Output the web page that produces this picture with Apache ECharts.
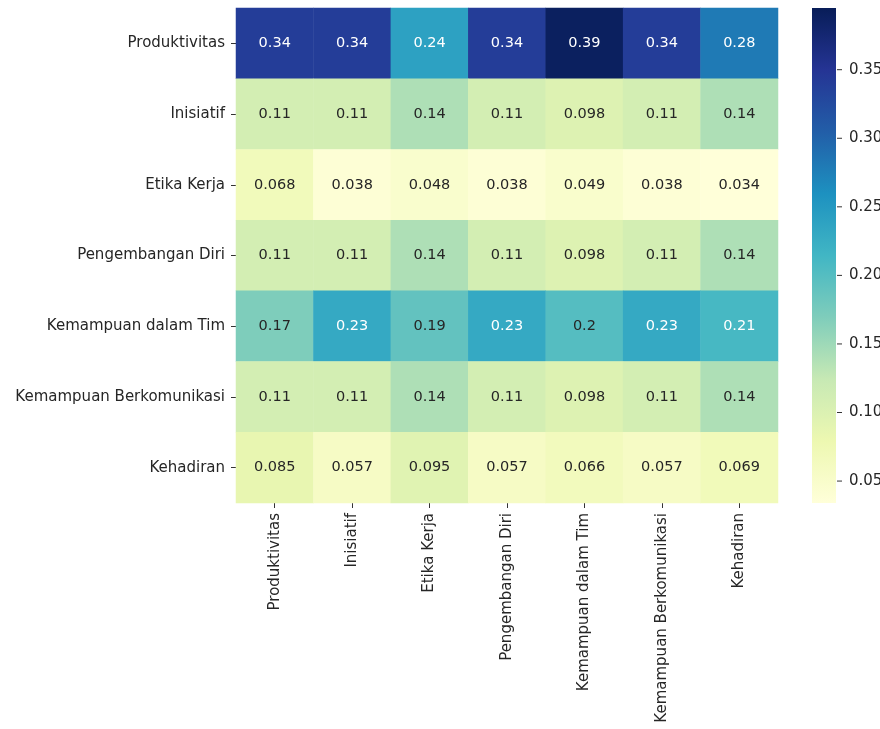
<!DOCTYPE html>
<html>
<head>
<meta charset="utf-8">
<script src="https://cdn.jsdelivr.net/npm/echarts@6/dist/echarts.min.js"></script>
<style>
html,body{margin:0;padding:0;background:#fff;}
#chart{width:880px;height:729px;}
</style>
</head>
<body>
<div id="chart"></div>
<script>
const categories = ['Produktivitas','Inisiatif','Etika Kerja','Pengembangan Diri','Kemampuan dalam Tim','Kemampuan Berkomunikasi','Kehadiran'];
const rowProduktivitas = [0.34, 0.34, 0.24, 0.34, 0.39, 0.34, 0.28];
const rowInisiatif = [0.11, 0.11, 0.14, 0.11, 0.098, 0.11, 0.14];
const rowEtikaKerja = [0.068, 0.038, 0.048, 0.038, 0.049, 0.038, 0.034];
const rowPengembanganDiri = [0.11, 0.11, 0.14, 0.11, 0.098, 0.11, 0.14];
const rowKemampuanTim = [0.17, 0.23, 0.19, 0.23, 0.2, 0.23, 0.21];
const rowKemampuanKomunikasi = [0.11, 0.11, 0.14, 0.11, 0.098, 0.11, 0.14];
const rowKehadiran = [0.085, 0.057, 0.095, 0.057, 0.066, 0.057, 0.069];
const colorbarTicks = [0.05, 0.10, 0.15, 0.20, 0.25, 0.30, 0.35];
const vMin = 0.034, vMax = 0.395;

const rows = [rowProduktivitas, rowInisiatif, rowEtikaKerja, rowPengembanganDiri, rowKemampuanTim, rowKemampuanKomunikasi, rowKehadiran];
const ylgnbu = ['#ffffd9','#edf8b1','#c7e9b4','#7fcdbb','#41b6c4','#1d91c0','#225ea8','#253494','#081d58'];

function hexToRgb(h){return [parseInt(h.slice(1,3),16),parseInt(h.slice(3,5),16),parseInt(h.slice(5,7),16)];}
function cmap(v){
  let t = (v - vMin) / (vMax - vMin);
  t = Math.max(0, Math.min(1, t));
  const p = t * (ylgnbu.length - 1);
  const i = Math.min(Math.floor(p), ylgnbu.length - 2);
  const f = p - i;
  const a = hexToRgb(ylgnbu[i]), b = hexToRgb(ylgnbu[i+1]);
  return a.map((c,k)=>c + (b[k]-c)*f);
}
function lum(rgb){
  const lin = rgb.map(c=>{c/=255;return c<=0.03928?c/12.92:Math.pow((c+0.055)/1.055,2.4);});
  return 0.2126*lin[0]+0.7152*lin[1]+0.0722*lin[2];
}

const data = [];
rows.forEach((row, r) => {
  row.forEach((v, c) => {
    const txt = lum(cmap(v)) > 0.408 ? '#262626' : '#ffffff';
    data.push({value:[c, r, v], label:{color: txt}});
  });
});

const gradient = new echarts.graphic.LinearGradient(0, 1, 0, 0,
  ylgnbu.map((c, i) => ({offset: i / (ylgnbu.length - 1), color: c})));

const font = 'DejaVu Sans';
const chart = echarts.init(document.getElementById('chart'));
chart.setOption({
  animation:false,
  backgroundColor:'#ffffff',
  grid:[
    {left:236, top:8, width:542, height:495, containLabel:false, outerBoundsMode:'none'},
    {left:812, top:8, width:24, height:495, containLabel:false, outerBoundsMode:'none',
     show:true, backgroundColor:gradient, borderWidth:0}
  ],
  xAxis:[
    {type:'category', data:categories, gridIndex:0, position:'bottom',
     axisLine:{show:false}, splitArea:{show:false},
     axisTick:{show:true, alignWithLabel:true, length:5, lineStyle:{color:'#333', width:1}},
     axisLabel:{rotate:90, fontFamily:font, fontSize:15, color:'#262626', margin:10, interval:0}},
    {type:'value', gridIndex:1, show:false, min:0, max:1}
  ],
  yAxis:[
    {type:'category', data:categories, gridIndex:0, inverse:true,
     axisLine:{show:false}, splitArea:{show:false},
     axisTick:{show:true, alignWithLabel:true, length:5, lineStyle:{color:'#333', width:1}},
     axisLabel:{fontFamily:font, fontSize:15, color:'#262626', margin:11, interval:0}},
    {type:'value', gridIndex:1, position:'right', min:vMin, max:vMax,
     axisLine:{show:false, onZero:false}, splitLine:{show:false},
     axisTick:{show:false},
     axisLabel:{show:true, customValues:colorbarTicks, margin:1,
       formatter:(v)=>'{t|}{v|' + Number(v).toFixed(2) + '}',
       rich:{
         t:{width:5, height:1, backgroundColor:'#333', verticalAlign:'middle'},
         v:{fontFamily:font, fontSize:15, color:'#262626', padding:[0,0,0,7], verticalAlign:'middle'}
       }}}
  ],
  visualMap:{
    type:'continuous', min:vMin, max:vMax, seriesIndex:0, show:false,
    inRange:{color:ylgnbu}
  },
  series:[
    {type:'heatmap', xAxisIndex:0, yAxisIndex:0, data:data,
     label:{show:true, fontFamily:font, fontSize:14.5,
       formatter:(p)=>String(p.value[2])},
     itemStyle:{borderWidth:0},
     emphasis:{disabled:true}},
    {type:'scatter', xAxisIndex:1, yAxisIndex:1, data:[], silent:true}
  ]
});
</script>
</body>
</html>
